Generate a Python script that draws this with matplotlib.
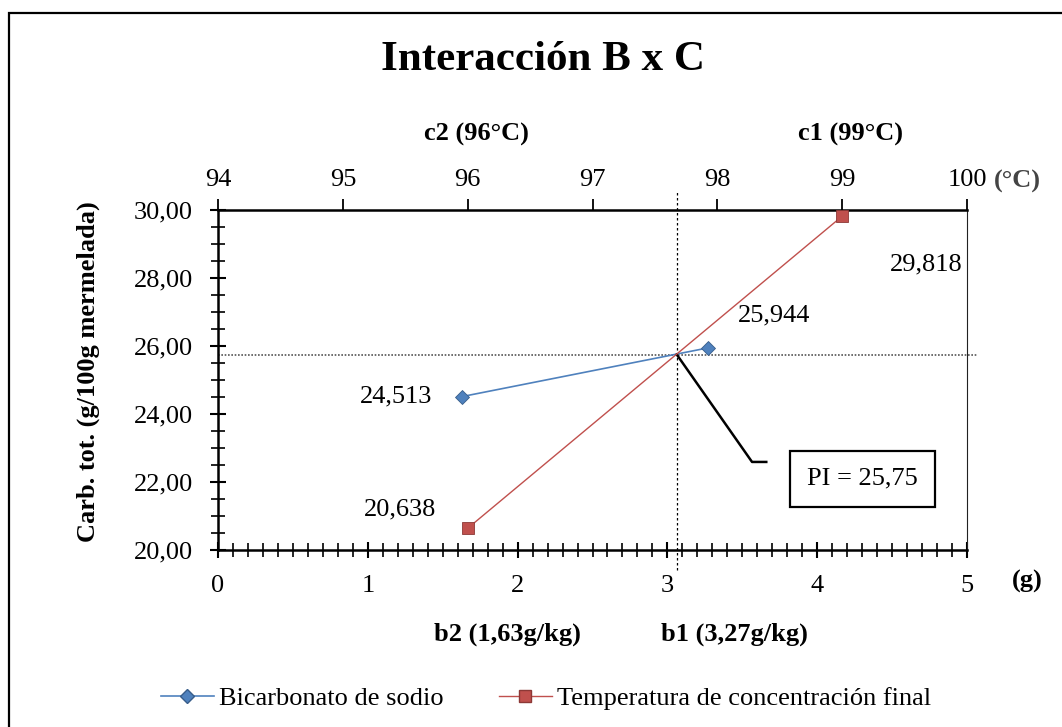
import matplotlib.pyplot as plt
from matplotlib.lines import Line2D
from matplotlib.patches import Rectangle
from matplotlib.ticker import MultipleLocator, FuncFormatter

plt.rcParams['font.family'] = ['Liberation Serif', 'DejaVu Serif']

# data
bic_x = [1.63, 3.27]          # g (bottom axis)
bic_y = [24.513, 25.944]
temp_x = [96, 99]             # degC (top axis)
temp_y = [20.638, 29.818]
bic_labels = ['24,513', '25,944']
temp_labels = ['20,638', '29,818']
pi_value = 25.75

BLUE = '#4F81BD'
RED = '#C0504D'
FS = 19

fig = plt.figure(figsize=(10.62, 7.27), dpi=100)
W, H = 1062, 727
def fx(px): return px / W
def fy(py): return 1 - py / H

# outer frame
fig.add_artist(Rectangle((fx(9), -0.05), 1.2, fy(13) + 0.05, transform=fig.transFigure,
                         fill=False, edgecolor='black', lw=1.6))

ax = fig.add_axes([fx(218), fy(550), fx(967) - fx(218), fy(210) - fy(550)])
ax.set_xlim(0, 5)
ax.set_ylim(20, 30)
ax2 = ax.twiny()
ax2.set_xlim(94, 100)

for s in ['left', 'bottom']:
    ax.spines[s].set_linewidth(1.8)
ax.spines['top'].set_visible(False)
ax.spines['right'].set_linewidth(0.8)
ax.spines['right'].set_color('#222222')
ax2.spines['top'].set_linewidth(1.8)
for s in ['left', 'bottom', 'right']:
    ax2.spines[s].set_visible(False)

ax.xaxis.set_major_locator(MultipleLocator(1))
ax.xaxis.set_minor_locator(MultipleLocator(0.1))
ax.yaxis.set_major_locator(MultipleLocator(2))
ax.yaxis.set_minor_locator(MultipleLocator(0.5))
ax.yaxis.set_major_formatter(FuncFormatter(lambda v, p: f'{v:.2f}'.replace('.', ',')))
ax.tick_params(axis='x', which='major', direction='inout', length=12, width=1.5, labelsize=FS, pad=12)
ax.tick_params(axis='x', which='minor', direction='inout', length=10, width=1.2)
ax.tick_params(axis='y', which='major', direction='inout', length=12, width=1.5, labelsize=FS, pad=12)
ax.tick_params(axis='y', which='minor', direction='inout', length=10, width=1.2)
ax.tick_params(right=False)

ax2.xaxis.set_major_locator(MultipleLocator(1))
ax2.tick_params(axis='x', which='major', direction='out', length=8, width=1.3, labelsize=FS, pad=6)

# intersection point of the two lines (in bottom axis units)
tx = [(t - 94) * 5 / 6 for t in temp_x]
m_b = (bic_y[1] - bic_y[0]) / (bic_x[1] - bic_x[0])
m_t = (temp_y[1] - temp_y[0]) / (tx[1] - tx[0])
ix = (temp_y[0] - m_t * tx[0] - bic_y[0] + m_b * bic_x[0]) / (m_b - m_t)

ax.axhline(pi_value, color='#555555', ls=(0, (1, 1)), lw=1.2, xmax=1.015, clip_on=False)
ax.axvline(ix, color='black', ls=(0, (2, 2)), lw=0.9, ymin=-0.06, ymax=1.06, clip_on=False)

ax.plot(bic_x, bic_y, color=BLUE, lw=1.2, marker='D', ms=7.5, mfc=BLUE, mec='#385D8A',
        mew=0.6, zorder=4, clip_on=False)
ax2.plot(temp_x, temp_y, color=RED, lw=1.0, marker='s', ms=9, mfc=RED, mec='#8C3836',
         mew=0.6, zorder=4, clip_on=False)

# value labels
ax.text(bic_x[0] - 0.2, bic_y[0], bic_labels[0], fontsize=FS, ha='right', va='center')
ax.text(3.47, 26.9, bic_labels[1], fontsize=FS, ha='left', va='center')
ax.text(1.46, 21.2, temp_labels[0], fontsize=FS, ha='right', va='center')
ax.text(4.97, 28.4, temp_labels[1], fontsize=FS, ha='right', va='center')

# PI callout
ax.plot([ix, 3.565, 3.66], [pi_value, 22.59, 22.59], color='black', lw=1.8, zorder=5)
ax.text(4.3, 22.09, ('PI = %.2f' % pi_value).replace('.', ','), fontsize=FS, ha='center', va='center',
        bbox=dict(boxstyle='square,pad=0.65', fc='white', ec='black', lw=1.6), zorder=6)

# axis titles and level labels
fig.text(fx(543), fy(60), 'Interacción B x C', fontsize=31, fontweight='bold', ha='center', va='center')
fig.text(fx(476), fy(134), 'c2 (96°C)', fontsize=FS, fontweight='bold', ha='center', va='center')
fig.text(fx(850), fy(134), 'c1 (99°C)', fontsize=FS, fontweight='bold', ha='center', va='center')
fig.text(fx(994), fy(181), '(°C)', fontsize=FS, fontweight='bold', color='#444444', ha='left', va='center')
fig.text(fx(1027), fy(581), '(g)', fontsize=FS, fontweight='bold', ha='center', va='center')
fig.text(fx(507), fy(634), 'b2 (1,63g/kg)', fontsize=FS, fontweight='bold', ha='center', va='center')
fig.text(fx(734), fy(634), 'b1 (3,27g/kg)', fontsize=FS, fontweight='bold', ha='center', va='center')
fig.text(fx(88), fy(372), 'Carb. tot. (g/100g mermelada)', fontsize=19, fontweight='bold',
         rotation=90, ha='center', va='center')

handles = [Line2D([], [], color=BLUE, lw=1.2, marker='D', ms=7.5, mfc=BLUE, mec='#385D8A'),
           Line2D([], [], color=RED, lw=1.0, marker='s', ms=9, mfc=RED, mec='#8C3836')]
fig.legend(handles, ['Bicarbonato de sodio', 'Temperatura de concentración final'],
           loc='center', bbox_to_anchor=(fx(546), fy(698)), ncol=2, frameon=False,
           fontsize=FS, handlelength=2.0, handletextpad=0.2, columnspacing=2.1)

fig.savefig('out.png', dpi=100)
